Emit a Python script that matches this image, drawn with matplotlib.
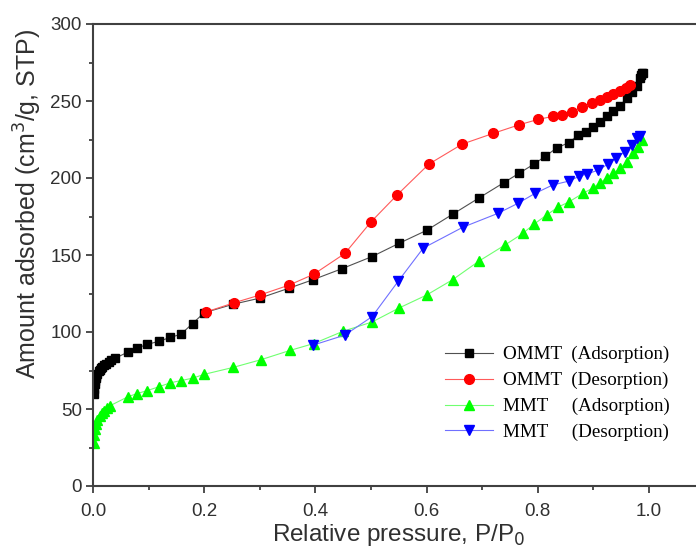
import matplotlib
matplotlib.use("Agg")
import matplotlib.pyplot as plt
from matplotlib.ticker import MultipleLocator

# --- DATA ---
ommt_ads_x = [0.001, 0.002, 0.003, 0.004, 0.005, 0.006, 0.008, 0.010, 0.012, 0.014,
              0.017, 0.020, 0.024, 0.028, 0.033, 0.040,
              0.063, 0.079, 0.098, 0.119, 0.139, 0.158, 0.179, 0.200, 0.252, 0.300,
              0.353, 0.396, 0.447, 0.502, 0.550, 0.600, 0.647, 0.694, 0.739, 0.766,
              0.793, 0.813, 0.834, 0.856, 0.873, 0.887, 0.900, 0.912, 0.924, 0.936,
              0.948, 0.960, 0.969, 0.978, 0.984, 0.986, 0.988, 0.989]
ommt_ads_y = [60, 63, 66, 68, 70, 71.5, 73, 74.5, 75.5, 76.5,
              77.5, 78.5, 79.5, 80.5, 81.5, 83,
              87, 89.5, 92, 94, 96.5, 98.5, 105.5, 112.5, 118, 122,
              128.5, 134, 141, 149, 157.5, 166, 176.5, 187, 197, 203,
              209, 214, 219.5, 223, 228, 230, 233, 236.5, 240, 243.5,
              247, 252, 256, 260, 265, 267, 268, 268.5]

ommt_des_x = [0.203, 0.254, 0.300, 0.353, 0.397, 0.453, 0.500, 0.547, 0.604, 0.664,
              0.720, 0.766, 0.800, 0.827, 0.843, 0.861, 0.879, 0.897, 0.912, 0.924,
              0.936, 0.948, 0.959, 0.966]
ommt_des_y = [113, 119, 124, 130.5, 137.5, 151, 171.5, 189, 209, 222,
              229, 234.5, 238, 240, 241, 243, 246, 248.7, 250.6, 252.6,
              254.5, 256.7, 258.6, 260.4]

mmt_ads_x = [0.001, 0.002, 0.003, 0.005, 0.008, 0.012, 0.016, 0.020, 0.025, 0.030,
             0.063, 0.079, 0.098, 0.119, 0.139, 0.159, 0.179, 0.200, 0.252, 0.302,
             0.354, 0.397, 0.450, 0.502, 0.550, 0.600, 0.647, 0.694, 0.741, 0.773,
             0.793, 0.816, 0.836, 0.856, 0.881, 0.899, 0.912, 0.924, 0.936, 0.948,
             0.960, 0.971, 0.980, 0.987]
mmt_ads_y = [28, 33, 37, 40, 43, 45.5, 47.5, 49, 50.5, 52,
             58, 60, 62, 64.5, 67, 68.5, 70, 72.5, 77, 82,
             88, 92.5, 100.5, 106.5, 115.5, 124, 134, 146, 156.5, 164,
             170, 176, 181, 184.5, 190, 193.5, 197, 200, 203, 206.5,
             210.5, 216, 220, 224.5]

mmt_des_x = [0.396, 0.453, 0.502, 0.549, 0.594, 0.665, 0.728, 0.764, 0.795, 0.827,
             0.856, 0.874, 0.888, 0.908, 0.926, 0.940, 0.957, 0.969, 0.978, 0.984]
mmt_des_y = [91.5, 98, 110, 133, 154.5, 168, 177, 183.5, 190, 195.5,
             198, 201, 202.6, 205, 209, 213, 217, 221.4, 226, 227]

labels = ["OMMT  (Adsorption)", "OMMT  (Desorption)",
          "MMT     (Adsorption)", "MMT     (Desorption)"]

plt.rcParams['font.family'] = ['Liberation Sans', 'DejaVu Sans']

fig = plt.figure(figsize=(6.96, 5.5), dpi=100)
# right end of the axes falls outside the figure, like the cropped original
ax = fig.add_axes([93 / 696, 64 / 550, 611.6 / 696, 462 / 550])

ax.plot(ommt_ads_x, ommt_ads_y, color='#505050', lw=0.8, marker='s', ms=5.8,
        mfc='black', mec='black', label=labels[0])
ax.plot(ommt_des_x, ommt_des_y, color='#ff5a5a', lw=0.8, marker='o', ms=7,
        mfc='red', mec='red', label=labels[1])
ax.plot(mmt_ads_x, mmt_ads_y, color='#70ff70', lw=0.8, marker='^', ms=7,
        mfc='#00ff00', mec='#00ff00', label=labels[2])
ax.plot(mmt_des_x, mmt_des_y, color='#7070ff', lw=0.8, marker='v', ms=7,
        mfc='blue', mec='blue', label=labels[3])

ax.set_xlim(0, 1.1)
ax.set_ylim(0, 300)
ax.xaxis.set_major_locator(MultipleLocator(0.2))
ax.xaxis.set_minor_locator(MultipleLocator(0.1))
ax.yaxis.set_major_locator(MultipleLocator(50))
ax.yaxis.set_minor_locator(MultipleLocator(25))
ax.xaxis.set_major_formatter(matplotlib.ticker.FormatStrFormatter('%.1f'))

for s in ['left', 'bottom', 'top', 'right']:
    ax.spines[s].set_color('#404040')
    ax.spines[s].set_linewidth(1.5)

ax.tick_params(which='major', direction='out', length=5, width=1.3,
               color='#404040', labelsize=13.5, labelcolor='#303030', pad=3)
ax.tick_params(axis='x', which='major', pad=7)
ax.tick_params(which='minor', direction='out', length=3, width=1.3, color='#404040')

ax.set_xlabel('Relative pressure, P/P$_0$', fontsize=17.5, color='#303030')
ax.set_ylabel('Amount adsorbed (cm$^3$/g, STP)', fontsize=18, color='#303030')
ax.xaxis.set_label_coords(0.5, -0.077)
ax.yaxis.set_label_coords(-0.08, 0.61)

ax.legend(loc='upper left', bbox_to_anchor=(445 / 696, 1 - 346 / 550),
          bbox_transform=fig.transFigure, frameon=False, borderpad=0,
          borderaxespad=0, handlelength=2.5, handletextpad=0.55,
          labelspacing=0.45, prop={'family': 'Liberation Serif', 'size': 13.7})

fig.savefig('out.png', dpi=100)
